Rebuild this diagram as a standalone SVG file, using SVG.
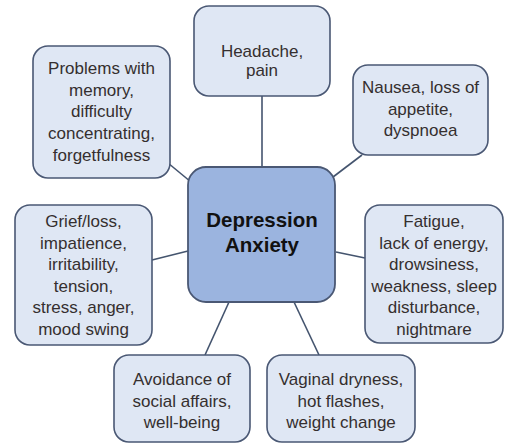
<svg xmlns="http://www.w3.org/2000/svg" width="505" height="446" viewBox="0 0 505 446">
  <style>
    .node rect { fill: #dfe7f4; stroke: #4a5874; stroke-width: 1.6; }
    .hub rect { fill: #9bb4df; stroke: #4a5874; stroke-width: 1.8; }
    .node text { font-family: "Liberation Sans", Arial, sans-serif; font-size: 17px; fill: #352f2f; text-anchor: middle; }
    .hub text { font-family: "Liberation Sans", Arial, sans-serif; font-size: 20.5px; font-weight: bold; fill: #111; text-anchor: middle; }
    .links line { stroke: #44546e; stroke-width: 1.6; }
  </style>
  <rect width="505" height="446" fill="#fff"/>

  <!-- connectors from the central node to each symptom group -->
  <g id="connectors" class="links">
    <line x1="262" y1="96" x2="262" y2="167"/>
    <line x1="362" y1="155" x2="333" y2="177"/>
    <line x1="168" y1="163" x2="191" y2="182"/>
    <line x1="152" y1="260" x2="188" y2="251"/>
    <line x1="336" y1="252" x2="365" y2="258"/>
    <line x1="229" y1="302" x2="205" y2="355"/>
    <line x1="294" y1="302" x2="319" y2="355"/>
  </g>

  <g id="center" class="hub">
    <rect x="188" y="167" width="147" height="135" rx="18"/>
    <text x="262" y="227">Depression</text>
    <text x="262" y="252">Anxiety</text>
  </g>

  <g id="headache" class="node">
    <rect x="194" y="6" width="136" height="90" rx="15"/>
    <text x="262" y="57">Headache,</text>
    <text x="262" y="76">pain</text>
  </g>

  <g id="memory" class="node">
    <rect x="33" y="46" width="137" height="132" rx="15"/>
    <text x="101.5" y="74">Problems with</text>
    <text x="101.5" y="95.5">memory,</text>
    <text x="101.5" y="117">difficulty</text>
    <text x="101.5" y="139">concentrating,</text>
    <text x="101.5" y="161">forgetfulness</text>
  </g>

  <g id="nausea" class="node">
    <rect x="353" y="65" width="135" height="90" rx="15"/>
    <text x="420.5" y="93">Nausea, loss of</text>
    <text x="420.5" y="114.5">appetite,</text>
    <text x="420.5" y="136">dyspnoea</text>
  </g>

  <g id="grief" class="node">
    <rect x="15" y="205" width="137" height="140" rx="15"/>
    <text x="83.5" y="227">Grief/loss,</text>
    <text x="83.5" y="248.5">impatience,</text>
    <text x="83.5" y="270">irritability,</text>
    <text x="83.5" y="291.5">tension,</text>
    <text x="83.5" y="313">stress, anger,</text>
    <text x="83.5" y="334.5">mood swing</text>
  </g>

  <g id="fatigue" class="node">
    <rect x="365" y="205" width="138" height="138" rx="15"/>
    <text x="434" y="227">Fatigue,</text>
    <text x="434" y="248.5">lack of energy,</text>
    <text x="434" y="270">drowsiness,</text>
    <text x="434" y="291.5">weakness, sleep</text>
    <text x="434" y="313">disturbance,</text>
    <text x="434" y="334.5">nightmare</text>
  </g>

  <g id="avoidance" class="node">
    <rect x="114" y="355" width="136" height="87" rx="15"/>
    <text x="182" y="385">Avoidance of</text>
    <text x="182" y="406.5">social affairs,</text>
    <text x="182" y="428">well-being</text>
  </g>

  <g id="physical" class="node">
    <rect x="267" y="355" width="148" height="87" rx="15"/>
    <text x="341" y="385">Vaginal dryness,</text>
    <text x="341" y="406.5">hot flashes,</text>
    <text x="341" y="428">weight change</text>
  </g>
</svg>
